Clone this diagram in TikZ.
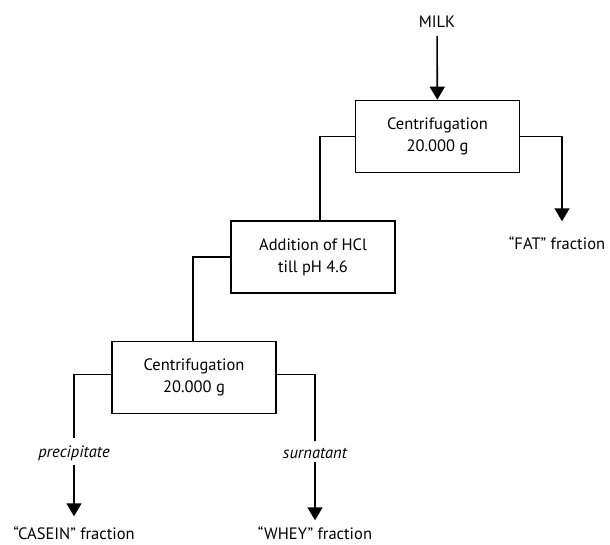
\documentclass[tikz,border=0pt]{standalone}
\usepackage{fontspec}
\setmainfont{PT Sans}
\usetikzlibrary{arrows.meta, positioning}

\tikzset{
  stepbox/.style={draw, line width=1.6pt, minimum width=164pt, minimum height=72pt,
    align=center, font=\fontsize{16.5}{22}\selectfont},
  flowline/.style={line width=1.6pt},
  flowarrow/.style={flowline, -{Triangle[length=13pt, width=15pt]}},
  tagtext/.style={font=\fontsize{16.5}{18}\selectfont, inner sep=2pt}
}

\begin{document}
\begin{tikzpicture}[x=1pt, y=-1pt]
    \useasboundingbox (0,0) rectangle (610,545);

    % boxes
    \node[stepbox] (cent1) at (437.5,136.5) {Centrifugation\\20.000 g};
    \node[stepbox] (acid) at (313,257) {Addition of HCl\\till pH 4.6};
    \node[stepbox] (cent2) at (194,377.5) {Centrifugation\\20.000 g};

    % texts
    \node[tagtext] (milk) at (437,22) {MILK};
    \node[tagtext] (fat) at (557,243) {“FAT” fraction};
    \node[tagtext, font=\fontsize{16.5}{18}\selectfont\itshape] (prec) at (74,453) {precipitate};
    \node[tagtext, font=\fontsize{16.5}{18}\selectfont\itshape] (surn) at (315,453) {surnatant};
    \node[tagtext] (casein) at (74,533) {“CASEIN” fraction};
    \node[tagtext] (whey) at (315,533) {“WHEY” fraction};

    % connectors
    \draw[flowarrow, shorten <=6pt] (milk) -- (cent1);
    \draw[flowline] (cent1.west) -| ([xshift=7pt]acid.north);
    \draw[flowarrow, shorten >=13pt] (cent1.east) -| ([xshift=5pt]fat.north);
    \draw[flowline] (acid.west) -| ([xshift=-1pt]cent2.north);
    \draw[flowline, shorten >=5pt] ([yshift=3pt]cent2.west) -| (prec.north);
    \draw[flowline, shorten >=5pt] ([yshift=3pt]cent2.east) -| (surn.north);
    \draw[flowarrow, shorten <=2pt, shorten >=8pt] (prec) -- (casein);
    \draw[flowarrow, shorten <=2pt, shorten >=4pt] (surn) -- (whey);
\end{tikzpicture}
\end{document}
